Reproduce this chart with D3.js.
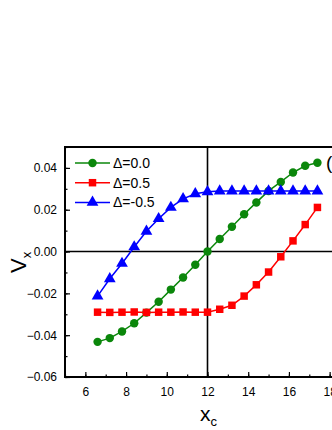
<!DOCTYPE html>
<html lang="en">
<head>
<meta charset="utf-8">
<script src="https://cdn.jsdelivr.net/npm/d3@7"></script>
<style type="text/css">
body {
	margin: 0;
	background-color: #ffffff;
	font-family: Arial, "Liberation Sans", sans-serif;
}
.axis text {
	font: 12px Arial, "Liberation Sans", sans-serif;
	fill: #000;
}
.axis path { display: none; }
.axis line { stroke: #000; stroke-width: 1.2; }
</style>
</head>
<body>
<script type="text/javascript">

// x positions of the simulated points
var xc = [6.6, 7.2, 7.8, 8.4, 9.0, 9.6, 10.2, 10.8, 11.4, 12.0,
	12.6, 13.2, 13.8, 14.4, 15.0, 15.6, 16.2, 16.8, 17.4];

// V_x for each Delta
var vDelta00 = [-0.0432, -0.0414, -0.0382, -0.0343, -0.0292, -0.0240, -0.0182, -0.0124, -0.0063, 0.0000,
	0.0060, 0.0119, 0.0178, 0.0235, 0.0290, 0.0333, 0.0378, 0.0410, 0.0425];
var vDelta05 = [-0.0290, -0.0291, -0.0290, -0.0289, -0.0291, -0.0290, -0.0290, -0.0289, -0.0290, -0.0290,
	-0.0276, -0.0257, -0.0213, -0.0159, -0.0098, -0.0025, 0.0051, 0.0129, 0.0211];
var vDeltaM05 = [-0.0213, -0.0130, -0.0057, 0.0022, 0.0097, 0.0157, 0.0211, 0.0252, 0.0276, 0.0286,
	0.0289, 0.0289, 0.0289, 0.0289, 0.0289, 0.0289, 0.0289, 0.0289, 0.0289];

var seriesNames = ["\u0394=0.0", "\u0394=0.5", "\u0394=-0.5"];
var seriesColors = ["#0b870b", "#ff0000", "#0000ff"];
var seriesSymbols = [d3.symbolCircle, d3.symbolSquare, d3.symbolTriangle];
var seriesValues = [vDelta00, vDelta05, vDeltaM05];

var xTicks = [6, 8, 10, 12, 14, 16, 18];
var yTicks = [-0.06, -0.04, -0.02, 0.00, 0.02, 0.04];

var width = 332, height = 430;
var mLeft = 65, mTop = 147, plotW = 285, plotH = 230;

var svg = d3.select("body").append("svg")
	.attr("width", width)
	.attr("height", height);

var x = d3.scaleLinear().domain([5, 19]).range([mLeft, mLeft + plotW]);
var y = d3.scaleLinear().domain([-0.06, 0.05]).range([mTop + plotH, mTop]);

// minor ticks (inward, short)
svg.append("g")
	.attr("class", "axis")
	.attr("transform", "translate(0," + (mTop + plotH) + ")")
	.call(d3.axisBottom(x).tickValues(d3.range(5, 19.5, 1)).tickSize(-2.5).tickFormat(""));
svg.append("g")
	.attr("class", "axis")
	.attr("transform", "translate(" + mLeft + ",0)")
	.call(d3.axisLeft(y).tickValues(d3.range(-6, 6, 1).map(function(d) { return d / 100; })).tickSize(-2.5).tickFormat(""));

// major ticks
svg.append("g")
	.attr("class", "axis")
	.attr("transform", "translate(0," + (mTop + plotH) + ")")
	.call(d3.axisBottom(x).tickValues(xTicks).tickSize(-5).tickPadding(10).tickFormat(d3.format("d")));
svg.append("g")
	.attr("class", "axis")
	.attr("transform", "translate(" + mLeft + ",0)")
	.call(d3.axisLeft(y).tickValues(yTicks).tickSize(-5).tickPadding(8).tickFormat(d3.format(".2f")));

// frame
svg.append("rect")
	.attr("x", mLeft)
	.attr("y", mTop)
	.attr("width", plotW)
	.attr("height", plotH)
	.style("fill", "none")
	.style("stroke", "#000")
	.style("stroke-width", 2);

// reference lines at V=0 and x=12
svg.append("line")
	.attr("x1", mLeft).attr("x2", mLeft + plotW)
	.attr("y1", y(0)).attr("y2", y(0))
	.style("stroke", "#000").style("stroke-width", 1.6);
svg.append("line")
	.attr("x1", x(12)).attr("x2", x(12))
	.attr("y1", mTop).attr("y2", mTop + plotH)
	.style("stroke", "#000").style("stroke-width", 1.6);

var line = d3.line()
	.x(function(d, i) { return x(xc[i]); })
	.y(function(d) { return y(d); });

var symbolSizes = [56, 56, 60];

seriesValues.forEach(function(vals, k) {
	svg.append("path")
		.datum(vals)
		.attr("d", line)
		.style("fill", "none")
		.style("stroke", seriesColors[k])
		.style("stroke-width", 1.5);

	svg.selectAll(".pt" + k)
		.data(vals)
		.enter()
		.append("path")
		.attr("class", "pt" + k)
		.attr("transform", function(d, i) { return "translate(" + x(xc[i]) + "," + y(d) + ")"; })
		.attr("d", d3.symbol().type(seriesSymbols[k]).size(symbolSizes[k]))
		.style("fill", seriesColors[k]);
});

// legend
var legend = svg.append("g").attr("transform", "translate(75,163)");
seriesNames.forEach(function(name, k) {
	var g = legend.append("g").attr("transform", "translate(0," + (k * 19.7) + ")");
	g.append("line")
		.attr("x1", 0).attr("x2", 35)
		.style("stroke", seriesColors[k])
		.style("stroke-width", 1.5);
	g.append("path")
		.attr("transform", "translate(17.5,0)")
		.attr("d", d3.symbol().type(seriesSymbols[k]).size(symbolSizes[k]))
		.style("fill", seriesColors[k]);
	g.append("text")
		.attr("x", 38)
		.attr("y", 5)
		.style("font-size", "14px")
		.text(name);
});

// panel label (cut off on the right)
svg.append("text")
	.attr("x", 326)
	.attr("y", 169)
	.style("font-size", "19px")
	.text("(a)");

// axis titles
var xt = svg.append("text")
	.attr("x", 200)
	.attr("y", 421)
	.style("font-size", "21px");
xt.append("tspan").text("x");
xt.append("tspan").attr("dy", 5).style("font-size", "13px").text("c");

var yt = svg.append("text")
	.attr("transform", "translate(26,273) rotate(-90)")
	.style("font-size", "22px");
yt.append("tspan").text("V");
yt.append("tspan").attr("dy", 5).style("font-size", "13px").text("x");

</script>
</body>
</html>
